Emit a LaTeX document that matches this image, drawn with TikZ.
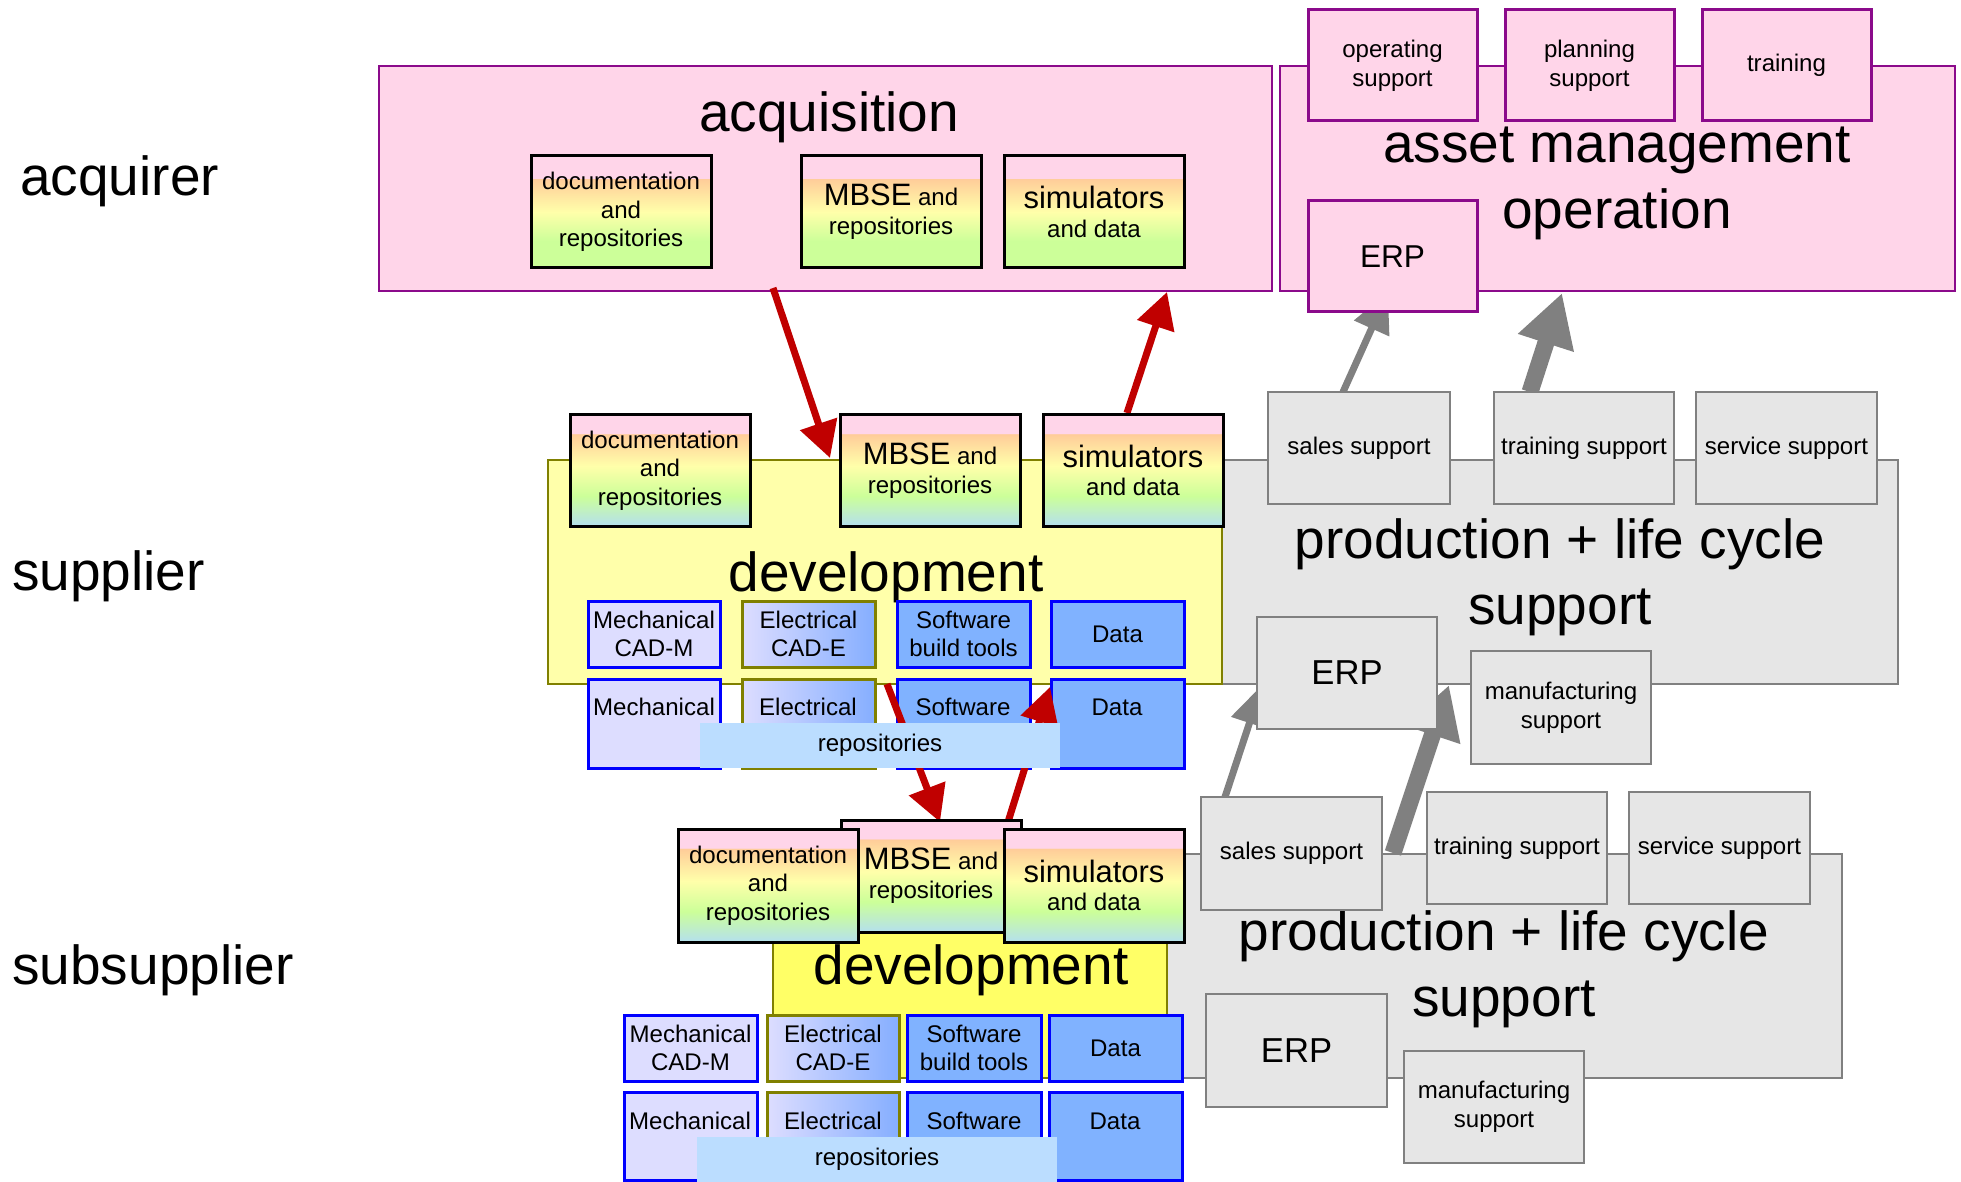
\documentclass[tikz,border=0pt]{standalone}
\usepackage{fontspec}
\setmainfont{Liberation Sans}
\usetikzlibrary{arrows.meta}
\definecolor{acqpink}{HTML}{FFD5E9}
\definecolor{acqpurple}{HTML}{8B0A8B}
\definecolor{devyel}{HTML}{FFFFAA}
\definecolor{subyel}{HTML}{FFFF66}
\definecolor{oliveb}{HTML}{808000}
\definecolor{prodgray}{HTML}{E6E6E6}
\definecolor{bordgray}{HTML}{808080}
\definecolor{lav}{HTML}{DDDDFF}
\definecolor{elecblue}{HTML}{85AEFF}
\definecolor{swblue}{HTML}{80B2FF}
\definecolor{repobar}{HTML}{BBDDFF}
\definecolor{arrred}{HTML}{C00000}
\definecolor{kpink}{HTML}{FFD5E9}
\definecolor{kpeach}{HTML}{FFCC99}
\definecolor{kyel}{HTML}{FFFFAA}
\definecolor{kgreen}{HTML}{CCFF99}
\definecolor{kblue}{HTML}{B4E0EE}
\pgfdeclareverticalshading{knowshA}{100bp}{color(0bp)=(kgreen); color(37bp)=(kgreen); color(50bp)=(kyel); color(64.9bp)=(kpeach); color(65bp)=(kpink); color(100bp)=(kpink)}
\pgfdeclareverticalshading{knowshB}{100bp}{color(0bp)=(kblue); color(25bp)=(kblue); color(38.5bp)=(kgreen); color(52bp)=(kyel); color(66.4bp)=(kpeach); color(66.5bp)=(kpink); color(100bp)=(kpink)}
\newcommand{\FtBig}{\fontsize{31.3}{37.6}\selectfont}
\newcommand{\FtSm}{\fontsize{13.7}{16.3}\selectfont}
\newcommand{\FtMed}{\fontsize{17.6}{20}\selectfont}
\newcommand{\FtErpA}{\fontsize{18}{20}\selectfont}
\newcommand{\FtErpB}{\fontsize{19.7}{22}\selectfont}
\begin{document}
\begin{tikzpicture}[x=0.02cm,y=-0.02cm,
 rb/.style args={#1/#2/#3/#4}{at={({(#1+#3)/2},{(#2+#4)/2})}, minimum width={(#3-#1)*0.02cm}, minimum height={(#4-#2)*0.02cm}},
 box/.style={inner sep=0pt, outer sep=0pt, align=center, font=\FtSm},
 acqbox/.style={box, draw=acqpurple, fill=acqpink, line width=0.05cm},
 acqsmall/.style={box, draw=acqpurple, fill=acqpink, line width=0.06cm},
 knowA/.style={box, draw=black, line width=0.06cm, shade, shading=knowshA},
 knowB/.style={box, draw=black, line width=0.06cm, shade, shading=knowshB},
 graybox/.style={box, draw=bordgray, fill=prodgray, line width=0.05cm},
 devbox/.style={box, draw=oliveb, line width=0.05cm},
 mechbox/.style={box, draw=blue, fill=lav, line width=0.06cm},
 elecbox/.style={box, draw=oliveb, left color=lav, right color=elecblue, line width=0.06cm},
 swbox/.style={box, draw=blue, fill=swblue, line width=0.06cm},
 repobox/.style={box, fill=repobar},
 lbl/.style={inner sep=0pt, font=\FtBig, align=center},
 txt/.style={inner sep=0pt, font=\FtSm},
 redarr/.style={draw=arrred, line width=0.14cm, -{Triangle[length=0.72cm, width=0.75cm]}},
 grayarr/.style={draw=bordgray, line width=0.14cm, -{Triangle[length=0.8cm, width=0.74cm]}},
 grayarrthick/.style={draw=bordgray, line width=0.34cm, -{Triangle[length=1.05cm, width=1.1cm]}}
]
\useasboundingbox (0,0) rectangle (1961,1182);
\fill[white] (0,0) rectangle (1961,1182);
\clip (0,0) rectangle (1961,1182);

% level labels
\node[lbl, anchor=base west] (lAcq) at (20,196) {acquirer};
\node[lbl, anchor=base west] (lSup) at (12,590) {supplier};
\node[lbl, anchor=base west] (lSub) at (12,984) {subsupplier};

% ---------------- acquirer
\node[acqbox, rb=379/66/1272/291] (acq) {};
\node[acqbox, rb=1280/66/1955/291] (asset) {};
\node[lbl] (assetT) at (1617,183) {asset management\\operation};
\node[lbl, anchor=base] (acqT) at (829,132) {acquisition};

\coordinate (g1a) at (1343,392);
\coordinate (g1b) at (1388,292);
\coordinate (g2a) at (1530,392);
\coordinate (g2b) at (1562,293);
\draw[grayarr] (g1a) -- (g1b);
\draw[grayarrthick] (g2a) -- (g2b);

\node[knowA, rb=531/156/711/268] (acqDoc) {documentation\\and\\repositories};
\node[knowA, rb=801/156/981/268] (acqMBSE) {{\FtMed MBSE} and\\repositories};
\node[knowA, rb=1004/156/1184/268] (acqSim) {{\FtMed simulators}\\and data};
\node[acqsmall, rb=1308/10/1477/121] (opSup) {operating\\support};
\node[acqsmall, rb=1505/10/1674/121] (planSup) {planning\\support};
\node[acqsmall, rb=1702/10/1871/121] (trainA) {training};
\node[acqsmall, font=\FtErpA, rb=1308/201/1477/312] (erpA) {ERP};

% ---------------- supplier
\node[graybox, rb=1222/460/1898/684] (prod) {};
\node[lbl] (prodT) at (1560,577) {production + life cycle\\support};
\node[devbox, fill=devyel, rb=548/460/1222/684] (dev) {};
\node[lbl] (devT) at (886,577) {development};

\coordinate (r1a) at (773,288);
\coordinate (r1b) at (830,458);
\coordinate (r2a) at (1127,413);
\coordinate (r2b) at (1167,292);
\draw[redarr] (r1a) -- (r1b);
\draw[redarr] (r2a) -- (r2b);

\node[knowB, rb=570/415/750/526] (supDoc) {documentation\\and\\repositories};
\node[knowB, rb=840/415/1020/526] (supMBSE) {{\FtMed MBSE} and\\repositories};
\node[knowB, rb=1043/415/1223/526] (supSim) {{\FtMed simulators}\\and data};
\node[graybox, rb=1268/392/1450/504] (sales) {sales support};
\node[graybox, rb=1494/392/1674/504] (trainS) {training support};
\node[graybox, rb=1696/392/1877/504] (serv) {service support};

\node[mechbox, rb=588/601/720/667] (mech1) {Mechanical\\CAD-M};
\node[elecbox, rb=742/601/875/667] (elec1) {Electrical\\CAD-E};
\node[swbox, rb=897/601/1030/667] (sw1) {Software\\build tools};
\node[swbox, rb=1051/601/1184/667] (data1) {Data};
\node[mechbox, rb=588/679/720/768] (mech2) {};
\node[elecbox, rb=742/679/875/768] (elec2) {};
\node[swbox, rb=897/679/1030/768] (sw2) {};
\node[swbox, rb=1051/679/1184/768] (data2) {};
\node[txt] (mech2t) at (654,707) {Mechanical};
\node[txt] (elec2t) at (808,707) {Electrical};
\node[txt] (sw2t) at (963,707) {Software};
\node[txt] (data2t) at (1117,707) {Data};

\coordinate (r3a) at (887,684);
\coordinate (r3b) at (940,822);
\coordinate (r4a) at (1008,822);
\coordinate (r4b) at (1050,687);
\draw[redarr] (r3a) -- (r3b);
\draw[redarr] (r4a) -- (r4b);

\node[repobox, rb=700/723/1060/768] (repo1) {repositories};

% ---------------- subsupplier
\node[graybox, rb=1166/854/1842/1078] (sprod) {};
\node[lbl] (sprodT) at (1504,969) {production + life cycle\\support};
\node[devbox, fill=subyel, rb=773/854/1167/1078] (sdev) {};
\node[lbl] (sdevT) at (971,970) {development};

\coordinate (g3a) at (1225,797);
\coordinate (g3b) at (1262,685);
\coordinate (g4a) at (1393,853);
\coordinate (g4b) at (1449,685);
\draw[grayarr] (g3a) -- (g3b);
\draw[grayarrthick] (g4a) -- (g4b);

\node[graybox, font=\FtErpB, rb=1257/617/1437/729] (erpS) {ERP};
\node[graybox, rb=1471/651/1651/764] (manuf) {manufacturing\\support};

\node[knowB, rb=841/820/1021/932] (subMBSE) {{\FtMed MBSE} and\\repositories};
\node[knowB, rb=678/829/858/942] (subDoc) {documentation\\and\\repositories};
\node[knowB, rb=1004/829/1184/942] (subSim) {{\FtMed simulators}\\and data};
\node[graybox, rb=1201/797/1382/910] (ssales) {sales support};
\node[graybox, rb=1427/792/1607/904] (strain) {training support};
\node[graybox, rb=1629/792/1810/904] (sserv) {service support};

\node[mechbox, rb=624/1015/757/1081] (smech1) {Mechanical\\CAD-M};
\node[elecbox, rb=767/1015/899/1081] (selec1) {Electrical\\CAD-E};
\node[swbox, rb=907/1015/1041/1081] (ssw1) {Software\\build tools};
\node[swbox, rb=1049/1015/1182/1081] (sdata1) {Data};
\node[mechbox, rb=624/1092/757/1180] (smech2) {};
\node[elecbox, rb=767/1092/899/1180] (selec2) {};
\node[swbox, rb=907/1092/1041/1180] (ssw2) {};
\node[swbox, rb=1049/1092/1182/1180] (sdata2) {};
\node[txt] (smech2t) at (690,1121) {Mechanical};
\node[txt] (selec2t) at (833,1121) {Electrical};
\node[txt] (ssw2t) at (974,1121) {Software};
\node[txt] (sdata2t) at (1115,1121) {Data};
\node[repobox, rb=697/1137/1057/1190] (repo2) {};
\node[txt] (repo2t) at (877,1159) {repositories};

\node[graybox, font=\FtErpB, rb=1206/994/1387/1107] (serp) {ERP};
\node[graybox, rb=1404/1051/1584/1163] (smanuf) {manufacturing\\support};
\end{tikzpicture}
\end{document}
